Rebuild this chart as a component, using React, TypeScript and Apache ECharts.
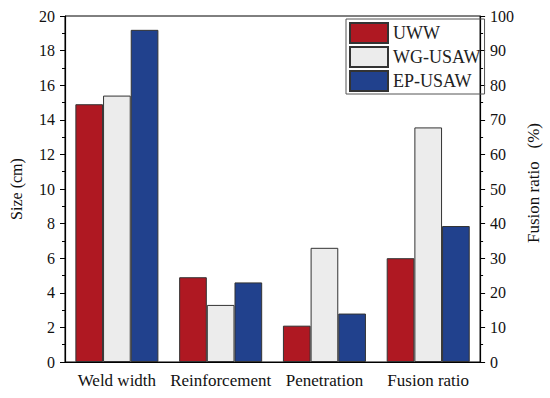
import React, { useEffect, useRef } from "react";
import * as echarts from "echarts";

const categories = ["Weld width", "Reinforcement", "Penetration", "Fusion ratio"];
const seriesNames = ["UWW", "WG-USAW", "EP-USAW"];
// Size values (cm) for the first three categories
const uwwSize = [14.9, 4.9, 2.1];
const wgSize = [15.4, 3.3, 6.6];
const epSize = [19.2, 4.6, 2.8];
// Fusion ratio values (%) read on the right axis
const uwwFusion = 30;
const wgFusion = 67.8;
const epFusion = 39.3;
const colors = ["#AF1822", "#ECECEC", "#21418D"];

const leftMax = 20;
const rightMax = 100;

export default function App() {
  const ref = useRef<HTMLDivElement>(null);
  useEffect(() => {
    document.body.style.margin = "0";
    const chart = echarts.init(ref.current!, null, { renderer: "svg" });
    const ratio = leftMax / rightMax;
    const data = [
      [...uwwSize, uwwFusion * ratio],
      [...wgSize, wgFusion * ratio],
      [...epSize, epFusion * ratio],
    ];
    const font = "'Liberation Serif', 'Times New Roman', serif";
    chart.setOption({
      animation: false,
      textStyle: { fontFamily: font },
      grid: {
        left: 58,
        right: 63,
        top: 16,
        bottom: 36,
        show: true,
        borderColor: "#000",
        borderWidth: 1,
        backgroundColor: "transparent",
      },
      legend: {
        orient: "vertical",
        left: 346,
        top: 19,
        itemWidth: 38,
        itemHeight: 20,
        itemGap: 2,
        padding: [3, 4, 2, 3],
        borderColor: "#555",
        borderWidth: 1,
        icon: "rect",
        textStyle: { fontFamily: font, fontSize: 18, color: "#222" },
        data: seriesNames,
      },
      xAxis: {
        type: "category",
        data: categories,
        axisLine: { lineStyle: { color: "#000", width: 1.2 } },
        axisTick: { show: false },
        axisLabel: { interval: 0, fontFamily: font, fontSize: 17, color: "#111", margin: 10 },
      },
      yAxis: [
        {
          type: "value",
          min: 0,
          max: leftMax,
          interval: 2,
          name: "Size (cm)",
          nameLocation: "middle",
          nameGap: 41,
          nameRotate: 90,
          nameTextStyle: { fontFamily: font, fontSize: 16, color: "#111" },
          axisLine: { show: true, lineStyle: { color: "#000", width: 1.2 } },
          axisTick: { show: true, length: 5, lineStyle: { color: "#000" } },
          minorTick: { show: true, splitNumber: 2, length: 3, lineStyle: { color: "#000" } },
          splitLine: { show: false },
          axisLabel: { fontFamily: font, fontSize: 16, color: "#111", margin: 10 },
        },
        {
          type: "value",
          min: 0,
          max: rightMax,
          interval: 10,
          position: "right",
          name: "Fusion ratio   (%)",
          nameLocation: "middle",
          nameGap: 42,
          nameRotate: 90,
          nameTextStyle: { fontFamily: font, fontSize: 17, color: "#111", padding: [0, 0, 0, 12] },
          axisLine: { show: true, lineStyle: { color: "#000", width: 1.2 } },
          axisTick: { show: true, length: 5, lineStyle: { color: "#000" } },
          minorTick: { show: true, splitNumber: 2, length: 3, lineStyle: { color: "#000" } },
          splitLine: { show: false },
          axisLabel: { fontFamily: font, fontSize: 16, color: "#111", margin: 10 },
        },
      ],
      series: seriesNames.map((name, i) => ({
        name,
        type: "bar",
        yAxisIndex: 0,
        data: data[i],
        barGap: "0%",
        barCategoryGap: "20%",
        itemStyle: { color: colors[i], borderColor: "#333", borderWidth: 1 },
      })),
    });
    return () => chart.dispose();
  }, []);
  return <div ref={ref} style={{ width: 550, height: 398 }} />;
}
